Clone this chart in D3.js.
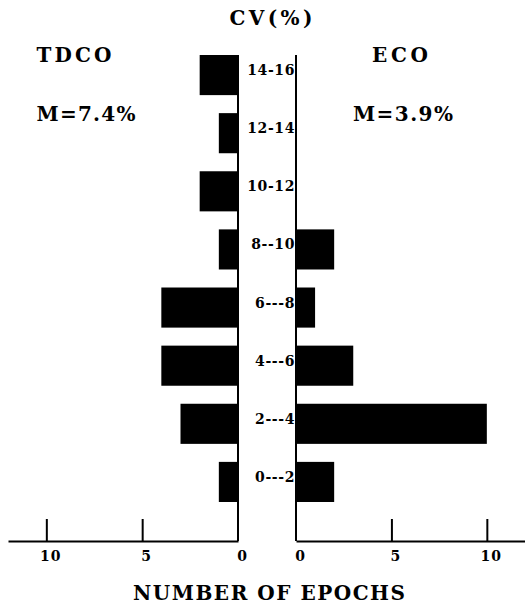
<!DOCTYPE html>
<html>
<head>
<meta charset="utf-8">
<script src="https://cdn.jsdelivr.net/npm/d3@7"></script>
<style>
  body { margin: 0; background: #fff; }
  svg text { font-family: "DejaVu Serif", serif; font-weight: bold; fill: #000; }
  .axis path, .axis line { stroke: #000; stroke-width: 2; }
  .axis text { font-size: 14px; }
</style>
</head>
<body>
<div id="chart"></div>
<script>
// CV(%) classes, top to bottom
const categories = ['14-16', '12-14', '10-12', '8--10', '6---8', '4---6', '2---4', '0---2'];
// number of epochs per class
const tdcoValues = [2, 1, 2, 1, 4, 4, 3, 1];
const ecoValues = [0, 0, 0, 2, 1, 3, 10, 2];
const tickValues = [0, 5, 10];

const width = 525;
const height = 608;
const leftZero = 238;
const rightZero = 296;
const axisY = 541;
const topY = 55;

const svg = d3.select('#chart')
  .append('svg')
  .attr('width', width)
  .attr('height', height);

const y = d3.scaleBand()
  .domain(categories)
  .range([46, 511])
  .paddingInner(0.31)
  .paddingOuter(0.155);

const xLeft = d3.scaleLinear().domain([0, 12]).range([leftZero, 8]);
const xRight = d3.scaleLinear().domain([0, 12]).range([rightZero, 525]);

// bars
svg.append('g')
  .selectAll('rect')
  .data(categories.map((c, i) => ({ c, v: tdcoValues[i] })))
  .enter()
  .append('rect')
  .attr('x', d => xLeft(d.v))
  .attr('y', d => y(d.c))
  .attr('width', d => xLeft(0) - xLeft(d.v))
  .attr('height', y.bandwidth())
  .attr('fill', '#000');

svg.append('g')
  .selectAll('rect')
  .data(categories.map((c, i) => ({ c, v: ecoValues[i] })))
  .enter()
  .append('rect')
  .attr('x', xRight(0))
  .attr('y', d => y(d.c))
  .attr('width', d => xRight(d.v) - xRight(0))
  .attr('height', y.bandwidth())
  .attr('fill', '#000');

// vertical baselines
[leftZero, rightZero].forEach(x => {
  svg.append('line')
    .attr('x1', x).attr('x2', x)
    .attr('y1', topY).attr('y2', axisY)
    .attr('stroke', '#000')
    .attr('stroke-width', 2);
});

// bottom axes, ticks pointing up
const leftAxis = d3.axisBottom(xLeft)
  .tickValues(tickValues)
  .tickSize(-22)
  .tickSizeOuter(0)
  .tickPadding(10);
const rightAxis = d3.axisBottom(xRight)
  .tickValues(tickValues)
  .tickSize(-22)
  .tickSizeOuter(0)
  .tickPadding(10);

const gl = svg.append('g')
  .attr('class', 'axis')
  .attr('transform', `translate(0,${axisY})`)
  .call(leftAxis);
const gr = svg.append('g')
  .attr('class', 'axis')
  .attr('transform', `translate(0,${axisY})`)
  .call(rightAxis);
[gl, gr].forEach(g => {
  g.selectAll('.tick line').attr('stroke-width', 1.5);
  g.selectAll('.tick').filter(d => d === 0).select('line').remove();
  g.selectAll('text')
    .attr('dx', 4)
    .attr('font-family', '"DejaVu Serif", serif')
    .attr('letter-spacing', 1);
});

// class labels
svg.append('g')
  .selectAll('text')
  .data(categories)
  .enter()
  .append('text')
  .attr('x', rightZero - 1)
  .attr('y', d => y(d) + y.bandwidth() / 2)
  .attr('text-anchor', 'end')
  .attr('font-size', 14)
  .attr('letter-spacing', 0.6)
  .text(d => d);

// titles
const titles = [
  { t: 'CV(%)', x: 271, y: 25, w: 83 },
  { t: 'TDCO', x: 74, y: 62, w: 75 },
  { t: 'ECO', x: 400, y: 62, w: 56 },
  { t: 'M=7.4%', x: 86, y: 121, w: 99 },
  { t: 'M=3.9%', x: 403, y: 121, w: 100 },
  { t: 'NUMBER OF EPOCHS', x: 269, y: 600, w: 272 }
];
svg.append('g')
  .selectAll('text')
  .data(titles)
  .enter()
  .append('text')
  .attr('x', d => d.x)
  .attr('y', d => d.y)
  .attr('text-anchor', 'middle')
  .attr('font-size', 20)
  .attr('textLength', d => d.w)
  .attr('lengthAdjust', 'spacing')
  .text(d => d.t);
</script>
</body>
</html>
